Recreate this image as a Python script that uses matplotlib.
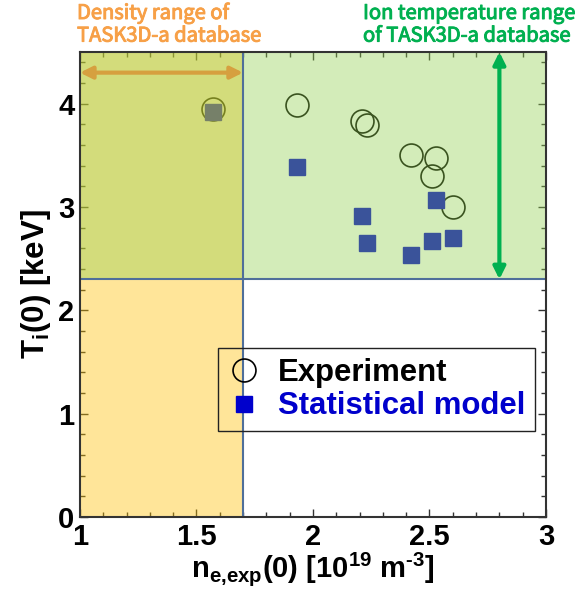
import numpy as np
import matplotlib
matplotlib.use("Agg")
import matplotlib.pyplot as plt
import matplotlib.patheffects as pe
from matplotlib.lines import Line2D
from matplotlib.patches import Rectangle
from matplotlib.ticker import MultipleLocator

ne_exp = [1.57, 1.93, 2.21, 2.23, 2.42, 2.53, 2.51, 2.60]
ti_exp = [3.95, 3.99, 3.83, 3.79, 3.50, 3.47, 3.30, 3.00]
# statistical model prediction
ne_model = [1.57, 1.93, 2.21, 2.23, 2.53, 2.42, 2.51, 2.60]
ti_model = [3.92, 3.39, 2.91, 2.65, 3.07, 2.54, 2.67, 2.70]

# database coverage
ne_range = [1.0, 1.7]
ti_range = [2.3, 4.5]

plt.rcParams['font.family'] = ['Liberation Sans', 'DejaVu Sans']
plt.rcParams['mathtext.fontset'] = 'custom'
plt.rcParams['mathtext.rm'] = 'Liberation Sans:bold'
plt.rcParams['mathtext.it'] = 'Liberation Sans:bold'
plt.rcParams['mathtext.bf'] = 'Liberation Sans:bold'

fig = plt.figure(figsize=(5.79, 6.03), dpi=100)
ax = fig.add_axes([0.138, 0.1426, 0.805, 0.7712])
ax.set_xlim(1, 3)
ax.set_ylim(0, 4.5)

blue = '#0000cc'
ax.plot(ne_exp, ti_exp, 'o', ms=16.5, mfc='none', mec='black', mew=1.2, zorder=1)
ax.plot(ne_model, ti_model, 's', ms=11, color=blue, mec=blue, zorder=1)

# translucent coverage boxes drawn over the points
ax.add_patch(Rectangle((ne_range[0], 0), ne_range[1] - ne_range[0], 4.5,
                       facecolor='#ffc000', alpha=0.4, edgecolor='none', zorder=2))
ax.add_patch(Rectangle((1, ti_range[0]), 2, ti_range[1] - ti_range[0],
                       facecolor='#92d050', alpha=0.4, edgecolor='none', zorder=2))
ax.plot([ne_range[1], ne_range[1]], [0, 4.5], color='#4f6f9a', lw=1.5, zorder=3)
ax.plot([1, 3], [ti_range[0], ti_range[0]], color='#4f6f9a', lw=1.5, zorder=3)

# range arrows
ax.annotate('', xy=(ne_range[0], 4.3), xytext=(ne_range[1], 4.3),
            arrowprops=dict(arrowstyle='<|-|>', color='#d6a03f', lw=3,
                            mutation_scale=18, shrinkA=0, shrinkB=0), zorder=4)
ax.annotate('', xy=(2.8, ti_range[0]), xytext=(2.8, ti_range[1]),
            arrowprops=dict(arrowstyle='<|-|>', color='#00b050', lw=3,
                            mutation_scale=18, shrinkA=0, shrinkB=0), zorder=4)

ax.xaxis.set_major_locator(MultipleLocator(0.5))
ax.xaxis.set_minor_locator(MultipleLocator(0.1))
ax.yaxis.set_major_locator(MultipleLocator(1))
ax.yaxis.set_minor_locator(MultipleLocator(0.2))
ax.set_xticks([1, 1.5, 2, 2.5, 3])
ax.set_xticklabels(['1', '1.5', '2', '2.5', '3'])
ax.tick_params(which='both', direction='in', top=True, right=True,
               color='#333333', width=1)
ax.tick_params(which='major', length=6, labelsize=21, pad=4)
ax.tick_params(which='minor', length=3.5)
for lab in ax.get_xticklabels() + ax.get_yticklabels():
    lab.set_fontweight('bold')
for sp in ax.spines.values():
    sp.set_color('#333333')
    sp.set_linewidth(1.5)
    sp.set_zorder(5)

ax.set_xlabel(r'n$_{\rm e{,}exp}$(0) [10$^{\rm 19}$ m$^{\text{-3}}$]',
              fontsize=21, fontweight='bold', labelpad=0)
ax.set_ylabel(r'T$_{\rm i}$(0) [keV]', fontsize=22.5, fontweight='bold', labelpad=4)

handles = [Line2D([], [], ls='none', marker='o', ms=16.5, mfc='none', mec='black', mew=1.2),
           Line2D([], [], ls='none', marker='s', ms=11, color=blue)]
leg = ax.legend(handles, ['Experiment', 'Statistical model'],
                loc='upper left', bbox_to_anchor=(0.296, 0.364),
                prop=dict(family='Liberation Sans', weight='bold', size=22.4),
                frameon=True, fancybox=False, facecolor='none', framealpha=1,
                edgecolor='#222222',
                handlelength=1.05, handletextpad=0.55, borderpad=0.32,
                labelspacing=0.12, borderaxespad=0)
leg.get_frame().set_linewidth(1.0)
leg.set_zorder(6)
leg.get_texts()[1].set_color(blue)

for x0, txt, col in [(77, 'Density range of\nTASK3D-a database', '#f7a047'),
                     (363, 'Ion temperature range\nof TASK3D-a database', '#00b050')]:
    fig.text(x0 / 579, 1 - 3 / 603, txt, ha='left', va='top', color=col,
             fontsize=14.5, family=['Noto Sans CJK JP', 'DejaVu Sans'],
             linespacing=1.1,
             path_effects=[pe.withStroke(linewidth=0.7, foreground=col)])

fig.savefig('out.png', dpi=100)
